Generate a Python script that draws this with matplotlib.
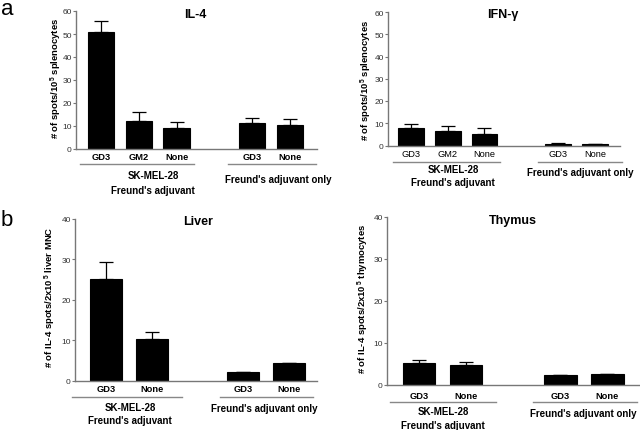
import numpy as np
import matplotlib
matplotlib.use("Agg")
import matplotlib.pyplot as plt
from matplotlib.lines import Line2D

plt.rcParams['font.family'] = ['Liberation Sans', 'DejaVu Sans']
plt.rcParams['mathtext.fontset'] = 'custom'
plt.rcParams['mathtext.rm'] = 'Liberation Sans'
plt.rcParams['mathtext.bf'] = 'Liberation Sans:bold'

# data
cats_a = ["GD3", "GM2", "None", "GD3", "None"]
cats_b = ["GD3", "None", "GD3", "None"]
il4_mean = [50.7, 12.3, 9.0, 11.2, 10.4]
il4_err = [4.8, 3.7, 2.6, 2.1, 2.5]
ifn_mean = [7.8, 6.3, 5.3, 0.8, 0.5]
ifn_err = [1.8, 2.6, 2.5, 0.1, 0.2]
liver_mean = [25.2, 10.4, 2.1, 4.5]
liver_err = [4.2, 1.7, 0.0, 0.0]
thymus_mean = [5.3, 4.7, 2.3, 2.7]
thymus_err = [0.6, 0.8, 0.0, 0.0]

W, H = 640, 431
fig = plt.figure(figsize=(W / 100, H / 100), dpi=100)


def frac(x, y):
    return x / W, 1 - y / H


def panel(left, right, top, bottom, pos, mean, err, cats, ymax, xlim,
          bold_ticks=True, pad=2.5):
    ax = fig.add_axes([left / W, 1 - bottom / H, (right - left) / W, (bottom - top) / H])
    ax.bar(pos, mean, width=0.7, color="black", edgecolor="black", linewidth=0.8,
           yerr=[np.zeros(len(err)), err], capsize=5,
           error_kw=dict(elinewidth=0.9, capthick=0.9, ecolor="black"))
    ax.set_xlim(*xlim)
    ax.set_ylim(0, ymax)
    ax.set_yticks(np.arange(0, ymax + 1, 10))
    ax.set_xticks(pos)
    ax.set_xticklabels(cats, fontsize=6.7, fontweight="bold" if bold_ticks else "normal")
    for s in ["top", "right"]:
        ax.spines[s].set_visible(False)
    for s in ["left", "bottom"]:
        ax.spines[s].set_color("#777777")
        ax.spines[s].set_linewidth(1.0)
    ax.tick_params(axis="x", length=0, pad=pad)
    ax.tick_params(axis="y", length=2.5, width=0.8, color="#777777",
                   labelsize=6, labelcolor="#333333", pad=0.5)
    return ax


def group_line(x0, x1, y):
    (fx0, fy), (fx1, _) = frac(x0, y), frac(x1, y)
    fig.add_artist(Line2D([fx0, fx1], [fy, fy], color="#888888", lw=1.0))


def label(x, y, s, size=7, weight="bold", rot=0):
    fx, fy = frac(x, y)
    fig.text(fx, fy, s, fontsize=size, fontweight=weight, rotation=rot,
             ha="center", va="center")


pos_a = [0, 1, 2, 4, 5]
pos_b = [0, 1, 3, 4]

panel(76, 317, 12, 150, pos_a, il4_mean, il4_err, cats_a, 60, (-0.667, 5.72))
panel(388, 620, 13, 146.5, pos_a, ifn_mean, ifn_err, cats_a, 60, (-0.62, 5.68),
      bold_ticks=False, pad=2.5)
panel(75, 317, 219.5, 382, pos_b, liver_mean, liver_err, cats_b, 40, (-0.69, 4.62))
panel(387, 640, 218, 386, pos_b, thymus_mean, thymus_err, cats_b, 40, (-0.68, 4.7),
      pad=4)

# group brackets
group_line(80, 194, 165); group_line(228, 316, 165)
group_line(393, 500, 162.7); group_line(538, 622, 162.7)
group_line(72, 182, 397.7); group_line(220, 313, 397.7)
group_line(390, 496, 403); group_line(533, 637, 403)

for cx, y1, y2, ox, oy in [(153, 176, 191, 278, 180), (453, 170, 183, 580, 173),
                           (130, 408, 421, 264, 409), (443, 412, 426, 583, 414)]:
    label(cx, y1, "SK-MEL-28")
    label(cx, y2, "Freund's adjuvant")
    label(ox, oy, "Freund's adjuvant only")

# titles
label(195, 15, "IL-4", size=9)
label(503, 15, "IFN-γ", size=9)
label(198, 222, "Liver", size=9)
label(513, 221, "Thymus", size=9)

# y labels
label(56, 78, r"# of spots/10$^{\mathbf{5}}$ splenocytes", size=6.8, rot=90)
label(366, 80, r"# of spots/10$^{\mathbf{5}}$ splenocytes", size=6.8, rot=90)
label(50, 297, r"# of IL-4 spots/2x10$^{\,\mathbf{5}}$ liver MNC", size=6.8, rot=90)
label(363, 299, r"# of IL-4 spots/2x10$^{\,\mathbf{5}}$ thymocytes", size=6.8, rot=90)

# panel letters
fig.text(1 / W, 1 - 15 / H, "a", fontsize=16, va="baseline", ha="left")
fig.text(1 / W, 1 - 226 / H, "b", fontsize=16, va="baseline", ha="left")

fig.savefig("out.png", dpi=100)
